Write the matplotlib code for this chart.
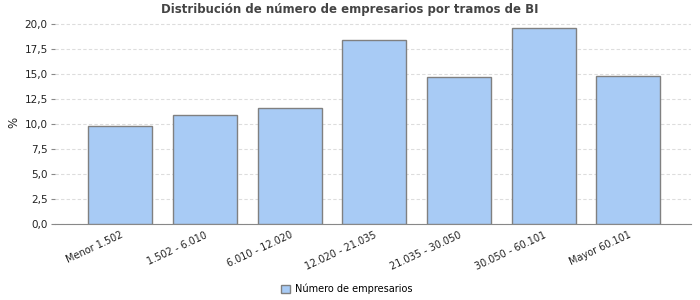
import numpy as np
import matplotlib.pyplot as plt
from matplotlib.ticker import FuncFormatter

# Data
tramos = ['Menor 1.502', '1.502 - 6.010', '6.010 - 12.020', '12.020 - 21.035',
          '21.035 - 30.050', '30.050 - 60.101', 'Mayor 60.101']
porcentaje = [9.8, 10.9, 11.6, 18.4, 14.7, 19.6, 14.8]
yticks = [0, 2.5, 5, 7.5, 10, 12.5, 15, 17.5, 20]

fig = plt.figure(figsize=(7, 3), dpi=100)
ax = fig.add_axes([0.078, 0.252, 0.909, 0.683])

x = np.arange(len(tramos))
ax.bar(x, porcentaje, width=0.755, color='#a8cbf5', edgecolor='#808080',
       linewidth=1.0, label='Número de empresarios', zorder=3)

ax.set_xlim(-0.777, 6.74)
ax.set_ylim(0, 20.5)
ax.set_yticks(yticks)
ax.yaxis.set_major_formatter(FuncFormatter(lambda v, p: f'{v:.1f}'.replace('.', ',')))
ax.grid(axis='y', color='#dddddd', linestyle=(0, (3, 2)), linewidth=0.8, zorder=0)

for s in ['top', 'right', 'left']:
    ax.spines[s].set_visible(False)
ax.spines['bottom'].set_color('#888888')

ax.tick_params(axis='y', length=3, color='#888888', labelsize=7.5, labelcolor='#222222', pad=2)
ax.tick_params(axis='x', length=0, labelsize=7, labelcolor='#222222', pad=4)
ax.set_xticks(x)
ax.set_xticklabels(tramos, rotation=25, ha='right', rotation_mode='anchor')

ax.set_ylabel('%', fontsize=8.5, color='#222222', labelpad=3)

fig.suptitle('Distribución de número de empresarios por tramos de BI',
             fontsize=8.5, fontweight='bold', color='#444444', x=0.5, y=0.99)

fig.legend(loc='lower center', bbox_to_anchor=(0.495, -0.01), frameon=False,
           fontsize=7, handlelength=0.9, handleheight=0.9, handletextpad=0.5)

fig.savefig('out.png', dpi=100)
